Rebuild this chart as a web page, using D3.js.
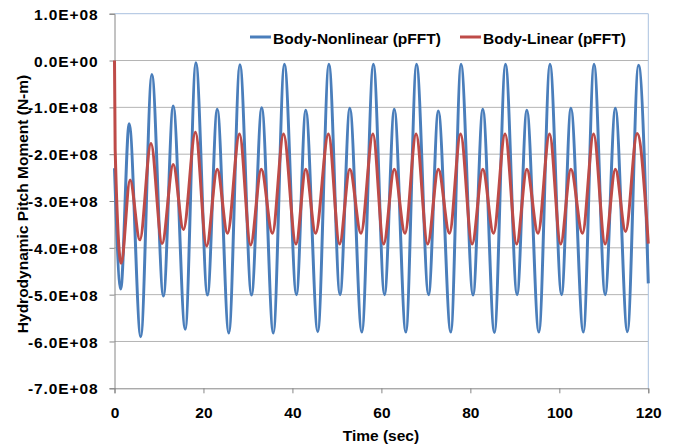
<!DOCTYPE html>
<html>
<head>
<meta charset="utf-8">
<script src="https://cdn.jsdelivr.net/npm/d3@7"></script>
<style>
  body { margin: 0; background: #fff; }
  svg text { font-family: "Liberation Sans", Arial, sans-serif; font-weight: bold; fill: #000; }
</style>
</head>
<body>
<div id="chart"></div>
<script>
// Series: [time (sec), moment in units of 1E+08 N-m]
var nonlinear = [
  [0, -2.3], [1.4, -4.88], [3.3, -1.35], [5.9, -5.9], [8.4, -0.3], [11.0, -5.03], [13.2, -0.97],
  [15.9, -5.74], [18.3, -0.05], [20.9, -5.01], [23.1, -1.04], [25.7, -5.82], [28.2, -0.09],
  [30.8, -5.01], [33.1, -1.01], [35.7, -5.82], [38.2, -0.08], [40.9, -5.0], [43.0, -1.06],
  [45.7, -5.79], [48.2, -0.08], [50.7, -5.0], [52.9, -1.02], [55.6, -5.8], [58.2, -0.08],
  [60.7, -5.0], [62.9, -1.04], [65.5, -5.8], [67.9, -0.08], [70.6, -5.0], [72.8, -1.08],
  [75.6, -5.8], [77.9, -0.08], [80.6, -5.01], [82.8, -1.04], [85.4, -5.81], [87.9, -0.08],
  [90.5, -5.0], [92.7, -1.06], [95.4, -5.8], [97.9, -0.08], [100.5, -5.0], [102.6, -1.02],
  [105.4, -5.8], [107.8, -0.08], [110.3, -5.0], [112.6, -1.02], [115.3, -5.79], [117.8, -0.1],
  [120, -4.76]
];
var linear = [
  [0, 0.0], [0.15, -1.9], [1.5, -4.33], [3.5, -2.55], [5.7, -3.83], [8.2, -1.77], [10.7, -3.91],
  [13.2, -2.22], [15.5, -3.61], [18.2, -1.53], [20.7, -3.96], [23.1, -2.32], [25.4, -3.69],
  [28.1, -1.57], [30.6, -3.94], [33.0, -2.32], [35.5, -3.69], [38.0, -1.57], [40.8, -3.92],
  [43.0, -2.32], [45.2, -3.69], [48.1, -1.57], [50.6, -3.92], [52.9, -2.32], [55.4, -3.69],
  [58.1, -1.57], [60.5, -3.92], [62.9, -2.32], [65.3, -3.69], [67.8, -1.57], [70.4, -3.92],
  [72.8, -2.32], [75.3, -3.69], [77.8, -1.57], [80.4, -3.92], [82.8, -2.32], [85.2, -3.69],
  [87.8, -1.57], [90.4, -3.92], [92.7, -2.32], [95.2, -3.69], [97.8, -1.57], [100.3, -3.92],
  [102.6, -2.32], [105.2, -3.69], [107.7, -1.57], [110.3, -3.92], [112.6, -2.32], [114.9, -3.65],
  [117.5, -1.56], [120, -3.91]
];
var seriesNames = ["Body-Nonlinear (pFFT)", "Body-Linear (pFFT)"];
var xTicks = [0, 20, 40, 60, 80, 100, 120];
var yTicks = [1, 0, -1, -2, -3, -4, -5, -6, -7];
var yTickLabels = ["1.0E+08", "0.0E+00", "-1.0E+08", "-2.0E+08", "-3.0E+08", "-4.0E+08", "-5.0E+08", "-6.0E+08", "-7.0E+08"];

var W = 675, H = 447;
var mLeft = 114.5, mRight = 648.3, mTop = 13.7, mBottom = 388.3;

var svg = d3.select("#chart").append("svg")
    .attr("width", W).attr("height", H);

var x = d3.scaleLinear().domain([0, 120]).range([mLeft, mRight]);
var y = d3.scaleLinear().domain([-7, 1]).range([mBottom, mTop]);

// gridlines
svg.append("g")
    .selectAll("line")
    .data(yTicks.filter(function (d) { return d > -7 && d < 1; }))
    .enter().append("line")
    .attr("x1", mLeft).attr("x2", mRight)
    .attr("y1", function (d) { return y(d); })
    .attr("y2", function (d) { return y(d); })
    .attr("stroke", "#b4b4b4").attr("stroke-width", 1);

// plot border top/right
svg.append("path")
    .attr("d", "M" + mLeft + "," + y(1) + "H" + x(120) + "V" + mBottom)
    .attr("fill", "none").attr("stroke", "#a9c1df").attr("stroke-width", 1);

// axes
var yAxis = d3.axisLeft(y).tickValues(yTicks)
    .tickFormat(function (d, i) { return yTickLabels[i]; })
    .tickSize(5).tickPadding(11);
var gy = svg.append("g").attr("transform", "translate(" + mLeft + ",0)").call(yAxis);
gy.select(".domain").attr("stroke", "#868686");
gy.selectAll(".tick line").attr("stroke", "#868686");
gy.selectAll("text").attr("font-size", "15.5px").attr("dy", "0.36em")
    .style("letter-spacing", "0.9px");

var xAxis = d3.axisBottom(x).tickValues(xTicks).tickSize(5).tickPadding(14);
var gx = svg.append("g").attr("transform", "translate(0," + mBottom + ")").call(xAxis);
gx.select(".domain").attr("stroke", "#868686");
gx.selectAll(".tick line").attr("stroke", "#868686");
gx.selectAll("text").attr("font-size", "15.5px");

// series
var line = d3.line()
    .x(function (d) { return x(d[0]); })
    .y(function (d) { return y(d[1]); })
    .curve(d3.curveMonotoneX);

svg.append("path").datum(nonlinear)
    .attr("d", line).attr("fill", "none")
    .attr("stroke", "#4a7ebb").attr("stroke-width", 3).attr("stroke-linejoin", "round");
svg.append("path").datum(linear)
    .attr("d", line).attr("fill", "none")
    .attr("stroke", "#be4b48").attr("stroke-width", 3).attr("stroke-linejoin", "round");

// legend
var legend = [
  { name: seriesNames[0], color: "#4a7ebb", x0: 250 },
  { name: seriesNames[1], color: "#be4b48", x0: 460 }
];
var lg = svg.append("g").selectAll("g").data(legend).enter().append("g");
lg.append("line")
    .attr("x1", function (d) { return d.x0; })
    .attr("x2", function (d) { return d.x0 + 21; })
    .attr("y1", 37).attr("y2", 37)
    .attr("stroke", function (d) { return d.color; }).attr("stroke-width", 3);
lg.append("text")
    .attr("x", function (d) { return d.x0 + 23; })
    .attr("y", 43.5)
    .attr("font-size", "15.5px")
    .text(function (d) { return d.name; });

// axis titles
svg.append("text")
    .attr("x", (mLeft + mRight) / 2 - 0.5).attr("y", 441)
    .attr("text-anchor", "middle").attr("font-size", "15.5px")
    .text("Time (sec)");
svg.append("text")
    .attr("transform", "translate(27.5,204) rotate(-90)")
    .attr("text-anchor", "middle").attr("font-size", "15.5px")
    .text("Hydrodynamic Pitch Moment (N-m)");
</script>
</body>
</html>
